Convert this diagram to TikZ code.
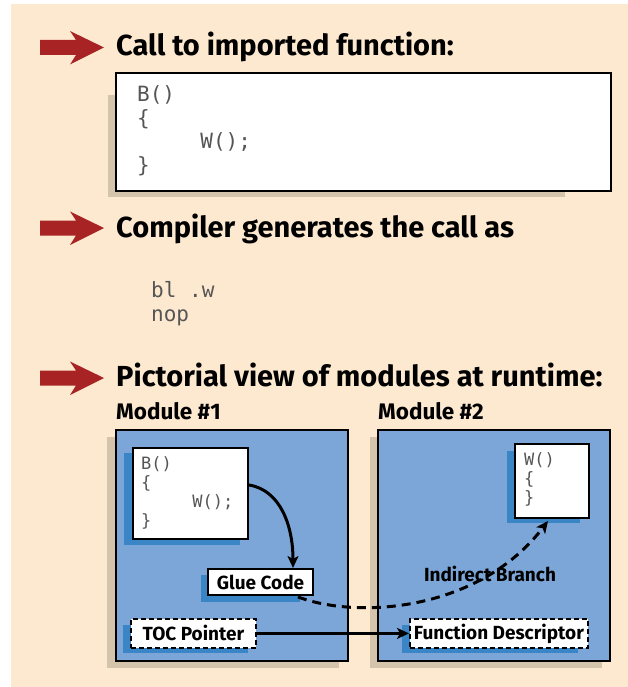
\documentclass[tikz,border=0pt]{standalone}
\usepackage{fontspec}
\setmainfont{Fira Sans}
\newfontfamily\codefont{DejaVu Sans Mono}
\usetikzlibrary{arrows.meta}
\definecolor{peach}{RGB}{253,233,208}
\definecolor{redarrow}{RGB}{168,36,36}
\definecolor{tanshadow}{RGB}{212,196,172}
\definecolor{modblue}{RGB}{124,166,216}
\definecolor{shadowblue}{RGB}{58,133,198}
\definecolor{codegray}{RGB}{85,85,85}
\tikzset{
  titletext/.style={anchor=base west, inner sep=0pt, font=\bfseries\fontsize{29}{33}\selectfont},
  modlabel/.style={anchor=base west, inner sep=0pt, font=\bfseries\fontsize{22.5}{26}\selectfont},
  bigcode/.style={anchor=base west, inner sep=0pt, text=codegray, font=\codefont\fontsize{21}{24}\selectfont},
  smallcode/.style={anchor=base west, inner sep=0pt, text=codegray, font=\codefont\fontsize{17}{20}\selectfont},
  boxlabel/.style={inner sep=0pt, font=\bfseries\fontsize{19}{22}\selectfont},
  outline/.style={draw=black, line width=2pt},
  dashbox/.style={draw=black, line width=1.8pt, dash pattern=on 5pt off 3pt},
  heavy/.style={line width=3pt, -{Stealth[length=12pt,width=11pt,inset=3pt]}},
}
\newcommand{\redarrow}[1]{%
  \fill[redarrow] (40,#1-7.5) -- (76,#1-7.5) -- (70,#1-16.5) -- (104,#1) -- (70,#1+17) -- (76,#1+7.5) -- (40,#1+7.5) -- cycle;}
\begin{document}
\begin{tikzpicture}[x=1pt,y=-1pt]
\useasboundingbox (0,0) rectangle (628,687);
\fill[peach] (11,4) rectangle (628,687);

% section arrows and titles
\redarrow{47.5}
\node[titletext] (t1) at (116,56) {Call to imported function:};
\redarrow{228}
\node[titletext] (t2) at (116,237) {Compiler generates the call as};
\redarrow{378}
\node[titletext] (t3) at (116,386) {Pictorial view of modules at runtime:};

% code box 1
\fill[tanshadow] (108,95) rectangle (565,197);
\node[outline, fill=white, anchor=north west, minimum width=495pt, minimum height=118pt, inner sep=0pt] (box1) at (115,72) {};
\node[bigcode] (c1a) at (137,102) {B()};
\node[bigcode] (c1b) at (137,125.5) {\{};
\node[bigcode] (c1c) at (137,149) {\hphantom{WWWWW}W();};
\node[bigcode] (c1d) at (137,172.5) {\}};

% compiled code
\node[bigcode] (asm1) at (151,297) {bl .w};
\node[bigcode] (asm2) at (151,321) {nop};

% module labels
\node[modlabel] (m1l) at (116,419) {Module \#1};
\node[modlabel] (m2l) at (378,419) {Module \#2};

% modules
\fill[tanshadow] (107,437) rectangle (339,668);
\node[outline, fill=modblue, anchor=north west, minimum width=232pt, minimum height=231pt, inner sep=0pt] (mod1) at (115,429) {};
\fill[tanshadow] (370,437) rectangle (602,668);
\node[outline, fill=modblue, anchor=north west, minimum width=232pt, minimum height=231pt, inner sep=0pt] (mod2) at (377,429) {};

% B() box
\fill[shadowblue] (124,453) rectangle (240,545);
\node[outline, fill=white, anchor=north west, minimum width=115pt, minimum height=91pt, inner sep=0pt] (bbox) at (132,447) {};
\node[smallcode] (b1) at (141,469) {B()};
\node[smallcode] (b2) at (141,488) {\{};
\node[smallcode] (b3) at (141,507) {\hphantom{WWWWW}W();};
\node[smallcode] (b4) at (141,526) {\}};

% Glue code
\fill[shadowblue] (201,575) rectangle (300,602);
\node[outline, fill=white, anchor=north west, minimum width=105pt, minimum height=26pt, inner sep=0pt] (glue) at (207,568) {};
\node[boxlabel] (gluet) at (glue.center) {Glue Code};

% TOC pointer
\fill[shadowblue] (123,625) rectangle (248,653);
\node[dashbox, fill=white, anchor=north west, minimum width=125pt, minimum height=29pt, inner sep=0pt] (toc) at (130,618) {};
\node[boxlabel] (toct) at (toc.center) {TOC Pointer};

% W() box
\fill[shadowblue] (507,451) rectangle (580,523);
\node[outline, fill=white, anchor=north west, minimum width=74pt, minimum height=74pt, inner sep=0pt] (wbox) at (514,443) {};
\node[smallcode] (w1) at (524,465) {W()};
\node[smallcode] (w2) at (524,484) {\{};
\node[smallcode] (w3) at (524,503) {\}};

% Function descriptor
\fill[shadowblue] (402,625) rectangle (578,653);
\node[dashbox, fill=white, anchor=north west, minimum width=178pt, minimum height=29pt, inner sep=0pt] (fd) at (409,618) {};
\node[boxlabel] (fdt) at (fd.center) {Function Descriptor};

% indirect branch label
\node[boxlabel] (ib) at (490,574) {Indirect Branch};

% connectors
\coordinate (bstart) at (bbox.east |- 0,485);
\coordinate (gtop) at (glue.north -| 293,0);
\draw[heavy] (bstart) .. controls (280,490) and (293,525) .. (gtop);
\coordinate (gcorner) at (298,597);
\coordinate (wtip) at (548,521);
\draw[heavy, dash pattern=on 9pt off 6pt] (gcorner) .. controls (360,620) and (480,610) .. (wtip);
\draw[heavy] (toc.east) -- (fd.west);
\end{tikzpicture}
\end{document}
